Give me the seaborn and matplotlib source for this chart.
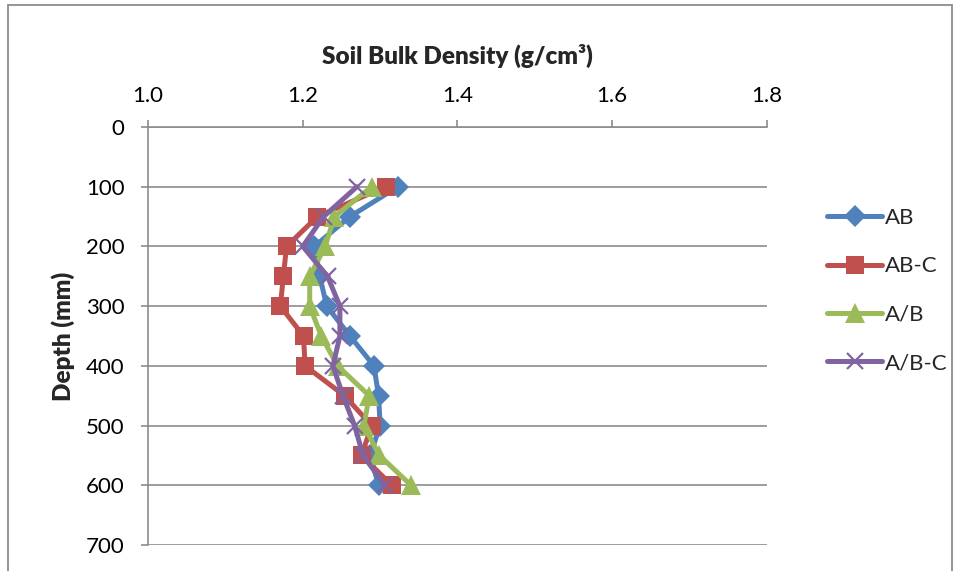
import numpy as np
import pandas as pd
import matplotlib
matplotlib.use("Agg")
import matplotlib.pyplot as plt
import seaborn as sns
from matplotlib.patches import Rectangle

depth = [100, 150, 200, 250, 300, 350, 400, 450, 500, 550, 600]
ab = [1.323, 1.261, 1.215, 1.222, 1.231, 1.261, 1.292, 1.298, 1.300, 1.287, 1.298]
ab_c = [1.307, 1.219, 1.179, 1.175, 1.171, 1.201, 1.203, 1.254, 1.289, 1.276, 1.315]
a_b = [1.289, 1.241, 1.229, 1.209, 1.209, 1.224, 1.245, 1.286, 1.279, 1.299, 1.340]
a_b_c = [1.270, 1.227, 1.200, 1.232, 1.248, 1.248, 1.239, 1.252, 1.267, 1.278, 1.306]
series_names = ["AB", "AB-C", "A/B", "A/B-C"]
x_ticks = [1.0, 1.2, 1.4, 1.6, 1.8]
y_ticks = [0, 100, 200, 300, 400, 500, 600, 700]

sns.set_theme(style="white")
plt.rcParams["font.family"] = ["Lato", "DejaVu Sans"]

colors = ["#4F81BD", "#C0504D", "#9BBB59", "#8064A2"]
markers = ["D", "s", "^", "x"]
msizes = [11, 13, 14, 12]

df = pd.concat([
    pd.DataFrame({"depth": depth, "density": vals, "series": name})
    for name, vals in zip(series_names, [ab, ab_c, a_b, a_b_c])
], ignore_index=True)

fig = plt.figure(figsize=(9.63, 5.71), dpi=100)
ax = fig.add_axes([148/963, 1-545/571, (767-148)/963, (545-127)/571])

for name, c, m, ms in zip(series_names, colors, markers, msizes):
    sub = df[df["series"] == name]
    kw = dict(markeredgecolor=c, markerfacecolor=c)
    if m == "x":
        kw["markeredgewidth"] = 1.6
    else:
        kw["markeredgewidth"] = 0
    sns.lineplot(data=sub, x="density", y="depth", sort=False, estimator=None,
                 color=c, linewidth=3.6, marker=m, markersize=ms, ax=ax,
                 label=name, **kw)

ax.set_xlim(1.0, 1.8)
ax.set_ylim(700, 0)
ax.set_xticks(x_ticks)
ax.set_xticklabels([f"{v:.1f}" for v in x_ticks])
ax.set_yticks(y_ticks)
ax.set_yticklabels([str(v) for v in y_ticks])
ax.xaxis.tick_top()
ax.xaxis.set_label_position("top")
ax.set_xlabel("Soil Bulk Density (g/cm³)", fontsize=17.5, fontweight="heavy", labelpad=16)
ax.set_ylabel("Depth (mm)", fontsize=17.5, fontweight="heavy", labelpad=8)

ax.yaxis.grid(True, color="#8C8C8C", linewidth=1.2)
ax.xaxis.grid(False)
ax.set_axisbelow(True)
for s in ["right", "bottom"]:
    ax.spines[s].set_visible(False)
for s in ["top", "left"]:
    ax.spines[s].set_color("#8C8C8C")
    ax.spines[s].set_linewidth(1.2)

ax.tick_params(axis="x", which="both", top=True, bottom=False, direction="out",
               length=5, width=1.2, color="#8C8C8C", labelsize=16, pad=10,
               labelcolor="black")
ax.tick_params(axis="y", which="both", left=True, direction="out",
               length=5, width=1.2, color="#8C8C8C", labelsize=16, pad=12,
               labelcolor="black")

ax.legend_.remove()
handles, labels = ax.get_legend_handles_labels()
fig.legend(handles, labels, loc="upper left", bbox_to_anchor=(818/963, 1-199/571),
           frameon=False, fontsize=16, handlelength=2.5, handletextpad=0.12,
           labelspacing=1.28, borderaxespad=0)

fig.patches.append(Rectangle((8/963, -0.05), (952-8)/963, 1.05 - 5/571,
                             transform=fig.transFigure, fill=False,
                             edgecolor="#8C8C8C", linewidth=1.3))

fig.savefig("out.png", dpi=100)
